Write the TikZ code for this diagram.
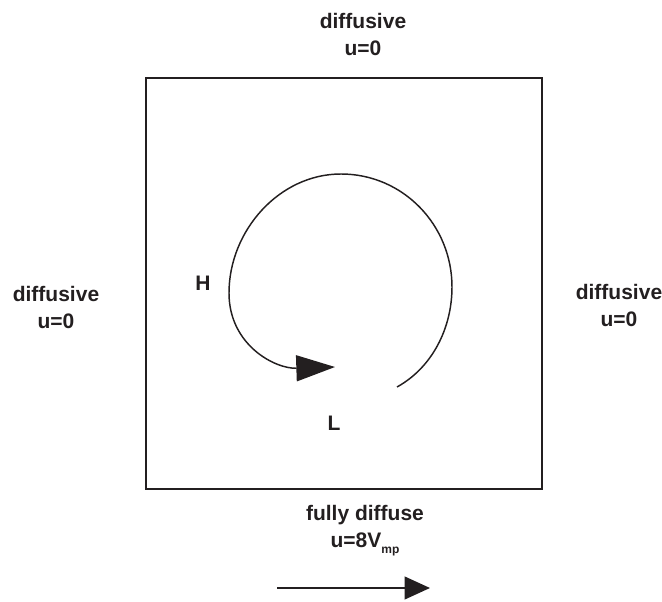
\documentclass[tikz,border=0pt]{standalone}
\usepackage{fontspec}
\setmainfont{Liberation Sans}
\usetikzlibrary{arrows.meta}
\definecolor{ink}{RGB}{35,31,32}

\begin{document}
\begin{tikzpicture}[x=0.75pt, y=-0.75pt, >=Triangle, ink,
  wall/.style={font={\fontsize{15.75}{20.25}\selectfont\bfseries}, align=center},
  cell/.style={font={\fontsize{15.75}{20.25}\selectfont\bfseries}, inner sep=0pt}]
\path[use as bounding box] (0,0) rectangle (662,602);
\draw[line width=1.5pt] (146,78) rectangle (542,489);
\node[wall] (top) at (363,34) {diffusive\\u=0};
\node[wall] (left) at (56,307) {diffusive\\u=0};
\node[wall] (right) at (619,305) {diffusive\\u=0};
\node[wall] (bottom) at (365,531) {fully diffuse\\u=8V\raisebox{-4.5pt}{\fontsize{9}{9}\selectfont mp}};
\node[cell] (H) at (203,283.5) {H};
\node[cell] (L) at (334,423) {L};
\coordinate (swirl) at (397,387);
\coordinate (tip) at (335,367);
\coordinate (flowstart) at (277,588);
\coordinate (flowend) at (430,588);
\draw[-{Triangle[length=29pt, width=19.5pt]}, line width=1.1pt] (swirl)
  .. controls (432.6,367.3) and (452,327.7) .. (452,287)
  .. controls (452,225) and (403,174) .. (341,174)
  .. controls (279,174) and (229,231) .. (229,293)
  .. controls (229,345) and (275,369) .. (tip);
\draw[-{Triangle[length=19pt, width=17pt]}, line width=1.5pt] (flowstart) -- (flowend);
\end{tikzpicture}
\end{document}
